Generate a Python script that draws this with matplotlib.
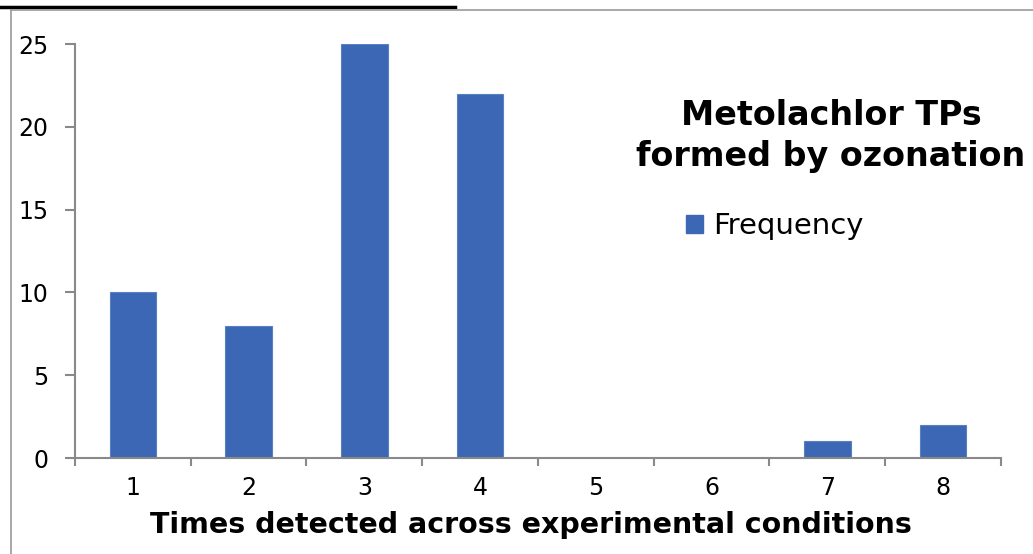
import matplotlib
matplotlib.use("Agg")
import matplotlib.pyplot as plt
from matplotlib.lines import Line2D
from matplotlib.patches import Patch

categories = [1, 2, 3, 4, 5, 6, 7, 8]
frequency = [10, 8, 25, 22, 0, 0, 1, 2]
y_ticks = [0, 5, 10, 15, 20, 25]

bar_color = "#3C67B4"
axis_gray = "#898989"

fig = plt.figure(figsize=(10.33, 5.54), dpi=100)
ax = fig.add_axes([75 / 1033, 1 - 458 / 554, (1001 - 75) / 1033, (458 - 44) / 554])

ax.bar(categories, frequency, width=0.4, color=bar_color, edgecolor="#5A80C4",
       linewidth=0.8, label="Frequency", zorder=2)

ax.set_xlim(0.5, 8.5)
ax.set_ylim(0, 25)
ax.set_yticks(y_ticks)
ax.set_xticks(categories)
ax.set_xticks([c + 0.5 for c in [0] + categories], minor=True)

for side in ("top", "right"):
    ax.spines[side].set_visible(False)
for side in ("left", "bottom"):
    ax.spines[side].set_color(axis_gray)
    ax.spines[side].set_linewidth(1.5)

ax.tick_params(axis="y", direction="out", length=7, width=1.5, color=axis_gray,
               labelsize=17, pad=12)
ax.tick_params(axis="x", which="major", length=0, labelsize=17, pad=13)
ax.tick_params(axis="x", which="minor", direction="out", length=6, width=1.5,
               color=axis_gray)

ax.set_xlabel("Times detected across experimental conditions", fontsize=20.5,
              fontweight="bold")
ax.xaxis.set_label_coords(0.4925, -0.162)
ax.xaxis.label.set_va("center")

fig.text(831 / 1033, 1 - 136 / 554, "Metolachlor TPs\nformed by ozonation",
         ha="center", va="center", fontsize=24, fontweight="bold",
         linespacing=1.3)

handles = [Patch(facecolor=bar_color, edgecolor=bar_color, label="Frequency")]
fig.legend(handles=handles, loc="center left",
           bbox_to_anchor=(686 / 1033, 1 - 226 / 554), frameon=False,
           borderpad=0, borderaxespad=0,
           fontsize=21, handlelength=0.58, handleheight=0.58, handletextpad=0.35)

# Frame lines around the chart area
fig.add_artist(Line2D([0, 455 / 1033], [1 - 7 / 554, 1 - 7 / 554],
                      color="black", linewidth=2.5))
fig.add_artist(Line2D([10.5 / 1033, 10.5 / 1033], [0, 1 - 10 / 554],
                      color="#9a9a9a", linewidth=1.2))
fig.add_artist(Line2D([10.5 / 1033, 1], [1 - 10 / 554, 1 - 10 / 554],
                      color="#9a9a9a", linewidth=1.2))

fig.savefig("out.png", dpi=100)
